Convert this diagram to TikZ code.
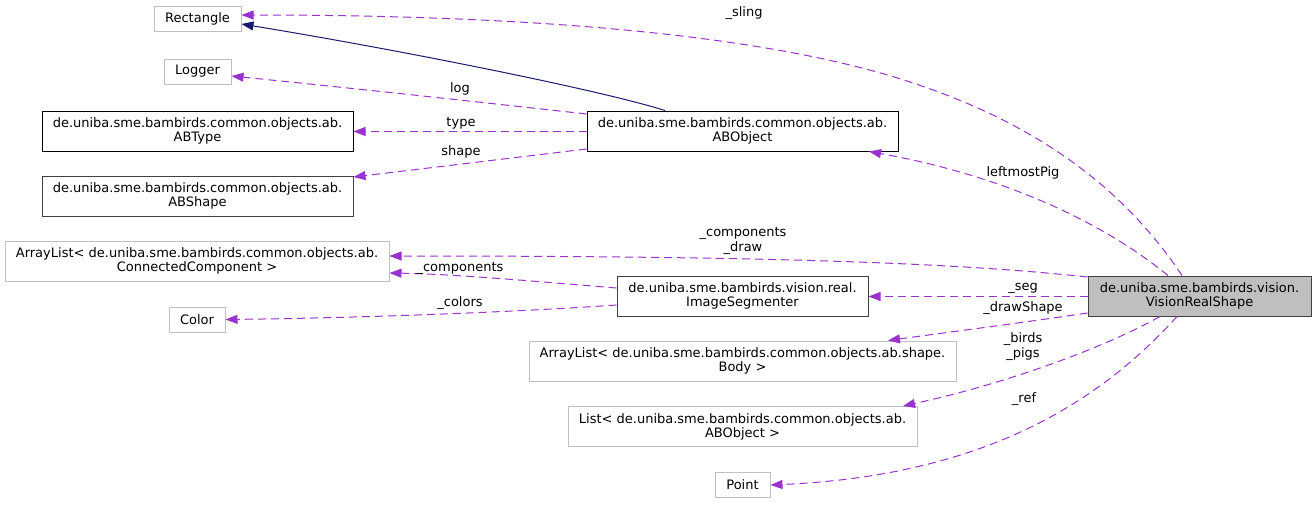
\documentclass[tikz,border=0pt]{standalone}
\usepackage{fontspec}
\setmainfont{DejaVu Sans}
\usetikzlibrary{arrows.meta}
\definecolor{edgepurple}{HTML}{9A32CD}
\definecolor{navyblue}{HTML}{191970}
\definecolor{boxgray}{HTML}{BFBFBF}
\definecolor{darkborder}{HTML}{404040}
\definecolor{visfill}{HTML}{BFBFBF}
\begin{document}
\begin{tikzpicture}[x=1pt,y=-1pt,
  box/.style={draw, rectangle, inner sep=0pt, align=center, line width=1pt, font=\fontsize{13}{14}\selectfont},
  gbox/.style={box, draw=boxgray},
  bbox/.style={box, draw=black},
  dbox/.style={box, draw=darkborder},
  lbl/.style={inner sep=0pt, align=center, font=\fontsize{13}{15}\selectfont},
  rel/.style={draw=edgepurple, dash pattern=on 8pt off 5pt, line width=1pt, -{Triangle[length=12pt,width=9pt]}},
  inh/.style={draw=navyblue, line width=1pt, -{Triangle[length=12pt,width=9pt]}}
]
\useasboundingbox (0,0) rectangle (1316,504);
\fill[white] (0,0) rectangle (1316,504);

% left column
\node[gbox, minimum width=87pt, minimum height=25pt] (rect) at (197.5,18.5) {Rectangle};
\node[gbox, minimum width=67pt, minimum height=25pt] (logger) at (197.5,71.5) {Logger};
\node[bbox, minimum width=311pt, minimum height=40pt] (abtype) at (197.5,131) {de.uniba.sme.bambirds.common.objects.ab.\\ABType};
\node[dbox, minimum width=311pt, minimum height=40pt] (abshape) at (197.5,196) {de.uniba.sme.bambirds.common.objects.ab.\\ABShape};
\node[gbox, minimum width=384pt, minimum height=40pt] (alcc) at (197,261) {ArrayList< de.uniba.sme.bambirds.common.objects.ab.\\ConnectedComponent >};
\node[gbox, minimum width=56pt, minimum height=25pt] (color) at (197,319.5) {Color};

% middle column
\node[bbox, minimum width=311pt, minimum height=40pt] (abobj) at (742.5,131) {de.uniba.sme.bambirds.common.objects.ab.\\ABObject};
\node[dbox, minimum width=251pt, minimum height=40pt] (is) at (742.5,296) {de.uniba.sme.bambirds.vision.real.\\ImageSegmenter};
\node[gbox, minimum width=427pt, minimum height=40pt] (albody) at (742.5,361) {ArrayList< de.uniba.sme.bambirds.common.objects.ab.shape.\\Body >};
\node[gbox, minimum width=349pt, minimum height=40pt] (list) at (742.5,426.5) {List< de.uniba.sme.bambirds.common.objects.ab.\\ABObject >};
\node[gbox, minimum width=55pt, minimum height=25pt] (point) at (742.5,485) {Point};

% main class
\node[dbox, fill=visfill, minimum width=223pt, minimum height=40pt] (vis) at (1199.5,296) {de.uniba.sme.bambirds.vision.\\VisionRealShape};

% edges
\draw[rel] ([xshift=-17.5pt]vis.north) .. controls (1125,190) and (1040,125) .. (913,83) .. controls (800,45) and (600,15) .. ([yshift=3.5pt]rect.east);
\draw[inh] ([xshift=-77.5pt]abobj.north) .. controls (600,90) and (400,50) .. ([yshift=-5.5pt]rect.east);
\draw[rel] ([yshift=17pt]abobj.west) .. controls (470,101) and (350,88) .. ([yshift=-4.5pt]logger.east);
\draw[rel] ([yshift=-0.5pt]abobj.west) -- ([yshift=-0.5pt]abtype.east);
\draw[rel] ([yshift=-18pt]abobj.west) -- ([yshift=19pt]abshape.east);
\draw[rel] ([xshift=-31.5pt]vis.north) .. controls (1100,220) and (1000,175) .. ([xshift=126.5pt]abobj.south);
\draw[rel] ([yshift=19pt]vis.west) .. controls (950,262) and (750,256) .. ([yshift=5pt]alcc.east);
\draw[rel] ([yshift=8pt]is.west) .. controls (520,280) and (450,274) .. ([yshift=-12pt]alcc.east);
\draw[rel] ([yshift=-9pt]is.west) .. controls (500,313) and (350,318) .. (color.east);
\draw[rel] ([yshift=-0.5pt]vis.west) -- ([yshift=-0.5pt]is.east);
\draw[rel] ([yshift=-17pt]vis.west) .. controls (1020,323) and (950,332) .. ([xshift=145.5pt]albody.north);
\draw[rel] ([xshift=-39.5pt]vis.south) .. controls (1100,350) and (1000,385) .. ([xshift=160.5pt]list.north);
\draw[rel] ([xshift=-22.5pt]vis.south) .. controls (1110,390) and (1000,475) .. (point.east);

% labels
\node[lbl] (lsling) at (744,13) {\_sling};
\node[lbl] (llog) at (460,89) {log};
\node[lbl] (ltype) at (461,123) {type};
\node[lbl] (lshape) at (461,152) {shape};
\node[lbl] (lpig) at (1023,173) {leftmostPig};
\node[lbl] (lcompdraw) at (743,240.5) {\_components\\\_draw};
\node[lbl] (lcomp) at (460,268) {\_components};
\node[lbl] (lcolors) at (460,303) {\_colors};
\node[lbl] (lseg) at (1023,288) {\_seg};
\node[lbl] (ldraw) at (1023,308) {\_drawShape};
\node[lbl] (lbirds) at (1023,347) {\_birds\\\_pigs};
\node[lbl] (lref) at (1024,399) {\_ref};
\end{tikzpicture}
\end{document}
